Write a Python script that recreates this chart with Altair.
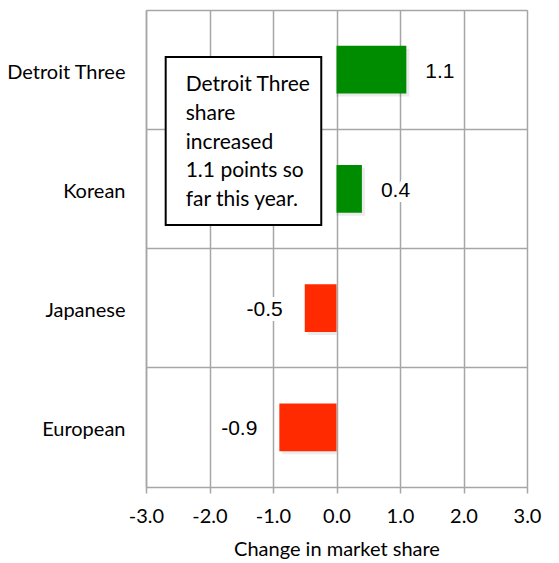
import altair as alt
import pandas as pd

categories = ["Detroit Three", "Korean", "Japanese", "European"]
values = [1.1, 0.4, -0.5, -0.9]
labels = ["1.1", "0.4", "-0.5", "-0.9"]
x_ticks = [-3, -2, -1, 0, 1, 2, 3]
note_lines = ["Detroit Three", "share", "increased", "1.1 points so", "far this year."]
note_x = [-2.69, -0.24]

df = pd.DataFrame({"cat": categories, "val": values, "lab": labels})
df["sign"] = ["pos" if v >= 0 else "neg" for v in values]

FONT = "Lato, sans-serif"
GRID = "#a6a6a6"

xs = alt.Scale(domain=[-3, 3], nice=False, zero=False)
ys = alt.Scale(domain=categories, paddingInner=0, paddingOuter=0)

x_enc = alt.X("val:Q", scale=xs, title="Change in market share",
              axis=alt.Axis(values=x_ticks, labelOverlap=False, labelFlush=False, grid=True,
                            gridColor=GRID,
                            labelExpr="(datum.value < 0 ? '-' : '') + format(abs(datum.value), '.1f')",
                            gridWidth=1.5, domainColor=GRID, domainWidth=1.5,
                            tickColor=GRID, tickWidth=1.5, tickSize=6,
                            labelFont=FONT, labelFontSize=20, labelColor="black",
                            labelPadding=13, titleFont=FONT, titleFontSize=20,
                            titleFontWeight="normal", titleColor="black", titlePadding=13))
y_enc = alt.Y("cat:N", scale=ys, sort=categories, title=None,
              axis=alt.Axis(grid=True, gridColor=GRID, gridWidth=1.5, bandPosition=0,
                            domainColor=GRID, domainWidth=1.5, ticks=False,
                            labelFont=FONT, labelFontSize=20, labelColor="black",
                            labelPadding=21, labelOffset=3))

color = alt.Color("sign:N", scale=alt.Scale(domain=["pos", "neg"], range=["#008c00", "#ff2a00"]),
                  legend=None)

shadow = alt.Chart(df).mark_bar(height={"band": 0.4}, color="#000000", opacity=0.08,
                                xOffset=3, yOffset=3).encode(
    x=x_enc, x2=alt.datum(0), y=y_enc)
bars = alt.Chart(df).mark_bar(height={"band": 0.4}).encode(
    x=x_enc, x2=alt.datum(0), y=y_enc, color=color)

pos = df[df.val >= 0]
neg = df[df.val < 0]
txt_kw = dict(font="Liberation Sans", fontSize=21, color="black", baseline="middle")
halo_kw = dict(font="Liberation Sans", fontSize=21, color="white", stroke="white",
               strokeWidth=10, baseline="middle")
enc = dict(x=alt.X("val:Q", scale=xs), y=alt.Y("cat:N", scale=ys, sort=categories), text="lab:N")
lp_h = alt.Chart(pos).mark_text(align="left", dx=19, dy=2, **halo_kw).encode(**enc)
lp = alt.Chart(pos).mark_text(align="left", dx=19, dy=2, **txt_kw).encode(**enc)
ln_h = alt.Chart(neg).mark_text(align="right", dx=-22, dy=2, **halo_kw).encode(**enc)
ln = alt.Chart(neg).mark_text(align="right", dx=-22, dy=2, **txt_kw).encode(**enc)

box_df = pd.DataFrame({"x1": [note_x[0]], "x2": [note_x[1]], "t": ["\n".join(note_lines)]})
box_shadow = alt.Chart(box_df).mark_rect(color="#000000", opacity=0.15, xOffset=4, yOffset=4).encode(
    x=alt.X("x1:Q", scale=xs), x2="x2:Q", y=alt.value(47), y2=alt.value(215))
box = alt.Chart(box_df).mark_rect(fill="white", stroke="black", strokeWidth=2).encode(
    x=alt.X("x1:Q", scale=xs), x2="x2:Q", y=alt.value(47), y2=alt.value(215))
box_txt = alt.Chart(box_df).mark_text(align="left", baseline="top", font=FONT, fontSize=21,
                                      lineBreak="\n", lineHeight=28.8, dx=20, color="black").encode(
    x=alt.X("x1:Q", scale=xs), y=alt.value(64), text="t:N")

chart = alt.layer(shadow, bars, lp_h, lp, ln_h, ln, box_shadow, box, box_txt).properties(
    width=381, height=477,
    autosize=alt.AutoSizeParams(type="none"),
    padding={"left": 146, "top": 10, "right": 32, "bottom": 76},
).configure_view(stroke=None).configure(background="white")

chart.save("out.html", embed_options={"renderer": "svg", "actions": False})
